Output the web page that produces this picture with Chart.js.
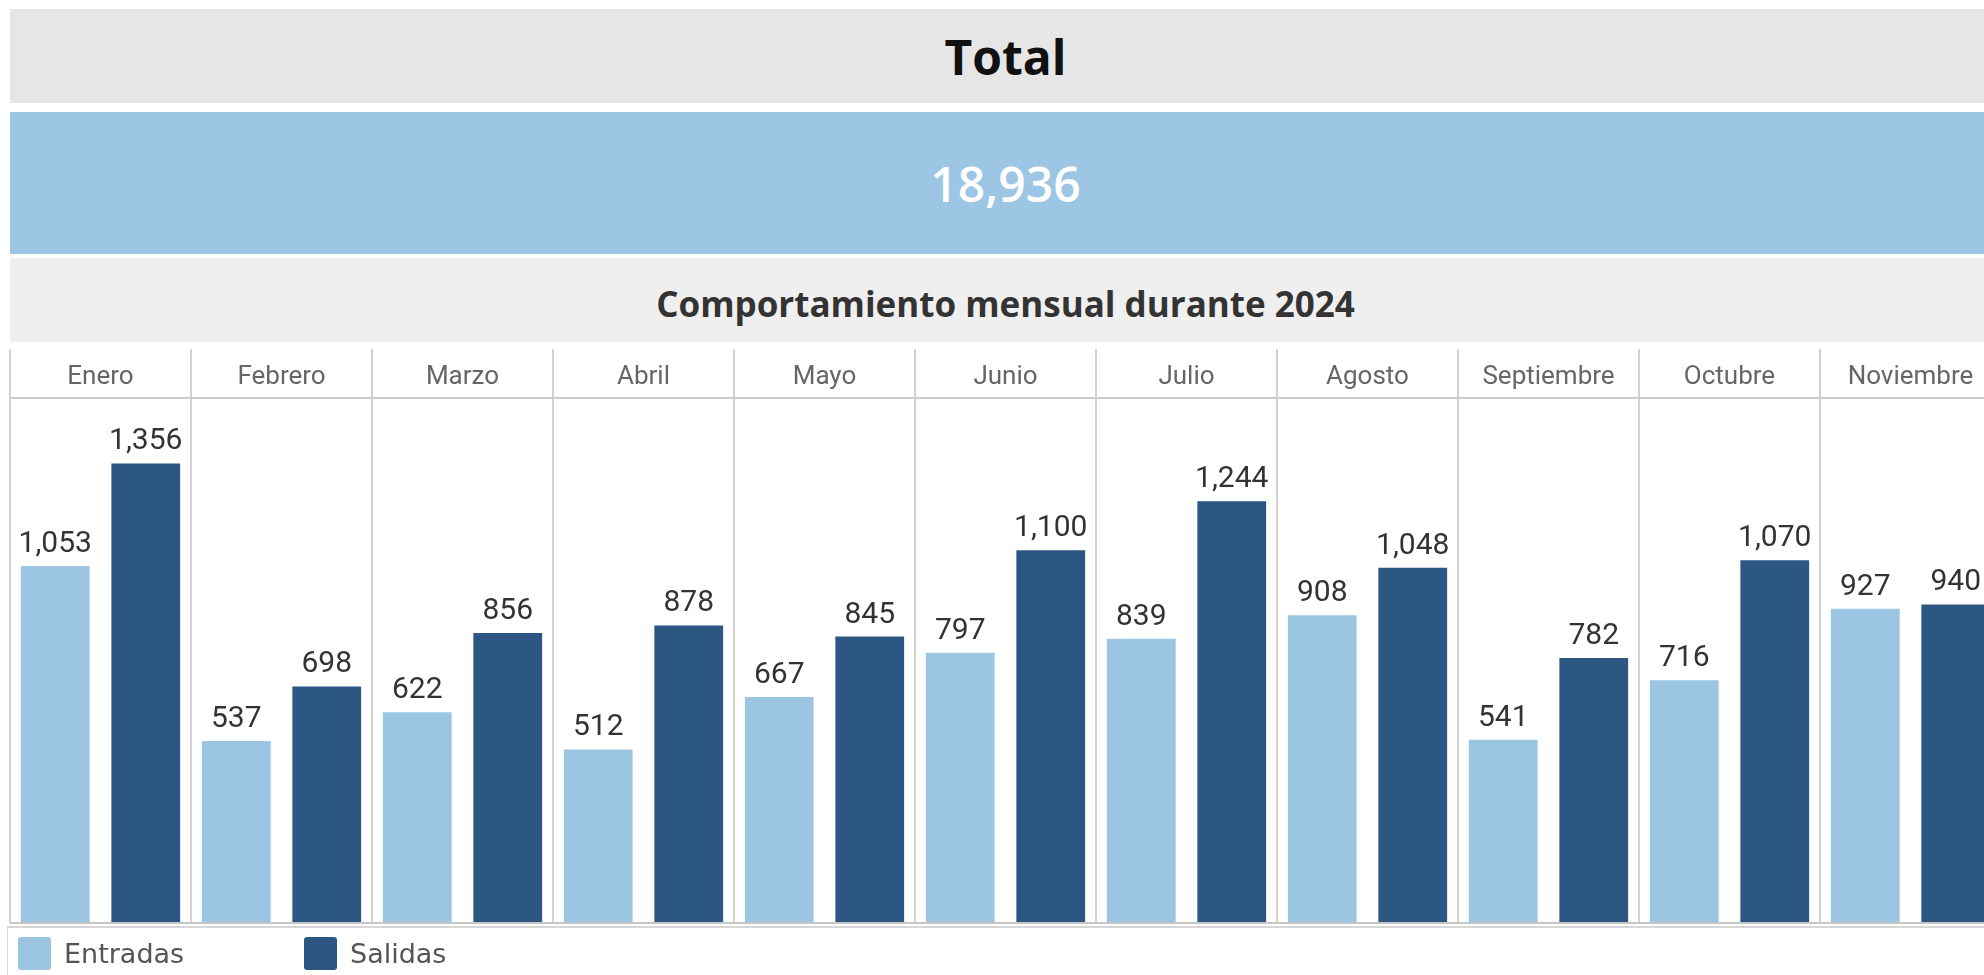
<!DOCTYPE html>
<html lang="es">
<head>
    <meta charset="UTF-8">
    <title>Comportamiento mensual durante 2024</title>
    <script src="https://cdn.jsdelivr.net/npm/chart.js"></script>
    <style>
        html, body { margin: 0; padding: 0; background: #fff; width: 1984px; height: 975px; overflow: hidden; }
        .panel {
            position: absolute; left: 10px; width: 1991px;
            display: flex; align-items: center; justify-content: center;
            font-family: "Open Sans", sans-serif;
        }
        #totalHead { top: 9px; height: 94px; background: #e6e6e6; color: #111; font-size: 48px; font-weight: 700; }
        #totalValue { top: 112px; height: 142px; background: #9dc6e4; color: #fff; font-size: 48px; font-weight: 600; }
        #subtitle { top: 258px; height: 84px; background: #efefef; color: #333; font-size: 35px; font-weight: 700; padding-top: 6px; box-sizing: border-box; }
        #chartWrap { position: absolute; left: 0; top: 349px; width: 2003px; height: 579px; }
        #legend {
            position: absolute; left: 7px; top: 926px; width: 2000px; height: 49px;
            border-top: 2px solid #d6d6d6; border-left: 1px solid #d6d6d6;
            font-family: "DejaVu Sans", sans-serif; font-size: 27px; color: #555;
        }
        .legend-item { position: absolute; top: 9px; display: flex; align-items: center; }
        .legend-item span.box { width: 33px; height: 33px; border-radius: 3px; margin-right: 13px; }
    </style>
</head>
<body>
    <div class="panel" id="totalHead">Total</div>
    <div class="panel" id="totalValue"></div>
    <div class="panel" id="subtitle">Comportamiento mensual durante 2024</div>
    <div id="chartWrap"><canvas id="monthChart"></canvas></div>
    <div id="legend"></div>

    <script>
        // data
        const months = ['Enero', 'Febrero', 'Marzo', 'Abril', 'Mayo', 'Junio', 'Julio', 'Agosto', 'Septiembre', 'Octubre', 'Noviembre'];
        const entradas = [1053, 537, 622, 512, 667, 797, 839, 908, 541, 716, 927];
        const salidas = [1356, 698, 856, 878, 845, 1100, 1244, 1048, 782, 1070, 940];
        const seriesNames = ['Entradas', 'Salidas'];
        const seriesColors = ['#9cc5e3', '#2b5782'];

        const fmt = new Intl.NumberFormat('en-US');
        const total = entradas.concat(salidas).reduce((a, b) => a + b, 0);
        document.getElementById('totalValue').textContent = fmt.format(total);

        // value labels above each bar
        const barLabels = {
            id: 'barLabels',
            afterDatasetsDraw(chart) {
                const ctx = chart.ctx;
                ctx.save();
                ctx.font = '30px Roboto';
                ctx.fillStyle = '#333';
                ctx.textAlign = 'center';
                ctx.textBaseline = 'alphabetic';
                chart.data.datasets.forEach((ds, i) => {
                    chart.getDatasetMeta(i).data.forEach((bar, j) => {
                        ctx.fillText(fmt.format(ds.data[j]), bar.x, bar.y - 14);
                    });
                });
                ctx.restore();
            }
        };

        // month names inside the header band of the top x axis
        const headerLabels = {
            id: 'headerLabels',
            afterDraw(chart) {
                const x = chart.scales.x;
                const ctx = chart.ctx;
                ctx.save();
                ctx.font = '26px Roboto';
                ctx.fillStyle = '#666';
                ctx.textAlign = 'center';
                ctx.textBaseline = 'middle';
                chart.data.labels.forEach((lbl, i) => {
                    ctx.fillText(lbl, x.getPixelForTick(i), x.top + x.height / 2 + 4);
                });
                ctx.restore();
            }
        };

        const ctx = document.getElementById('monthChart').getContext('2d');
        const chart = new Chart(ctx, {
            type: 'bar',
            data: {
                labels: months,
                datasets: [
                    { label: seriesNames[0], data: entradas, backgroundColor: seriesColors[0] },
                    { label: seriesNames[1], data: salidas, backgroundColor: seriesColors[1] }
                ]
            },
            options: {
                responsive: true,
                maintainAspectRatio: false,
                animation: false,
                layout: { padding: { top: 0, left: 10, right: 2, bottom: 5 } },
                datasets: { bar: { categoryPercentage: 1.0, barPercentage: 0.76, borderWidth: 0 } },
                plugins: {
                    legend: { display: false },
                    tooltip: { enabled: false }
                },
                scales: {
                    x: {
                        position: 'top',
                        grid: { offset: true, color: '#d2d2d2', lineWidth: 2, tickLength: 49 },
                        border: { display: true, color: '#cccccc', width: 2 },
                        ticks: { display: false, autoSkip: false }
                    },
                    y: {
                        min: 0,
                        max: 1549,
                        border: { display: false },
                        grid: {
                            drawTicks: false,
                            color: (c) => c.tick.value === 0 ? '#c6c6c6' : (c.tick.value % 500 === 0 ? '#efefef' : 'rgba(0,0,0,0)'),
                            lineWidth: (c) => c.tick.value === 0 ? 2 : 1.5
                        },
                        ticks: { display: false, stepSize: 500 }
                    }
                }
            },
            plugins: [barLabels, headerLabels]
        });

        // legend below the chart
        const legend = document.getElementById('legend');
        const legendX = [10, 296];
        chart.data.datasets.forEach((ds, i) => {
            const item = document.createElement('div');
            item.className = 'legend-item';
            item.style.left = legendX[i] + 'px';
            const box = document.createElement('span');
            box.className = 'box';
            box.style.background = ds.backgroundColor;
            const txt = document.createElement('span');
            txt.textContent = ds.label;
            item.appendChild(box);
            item.appendChild(txt);
            legend.appendChild(item);
        });
    </script>
</body>
</html>
